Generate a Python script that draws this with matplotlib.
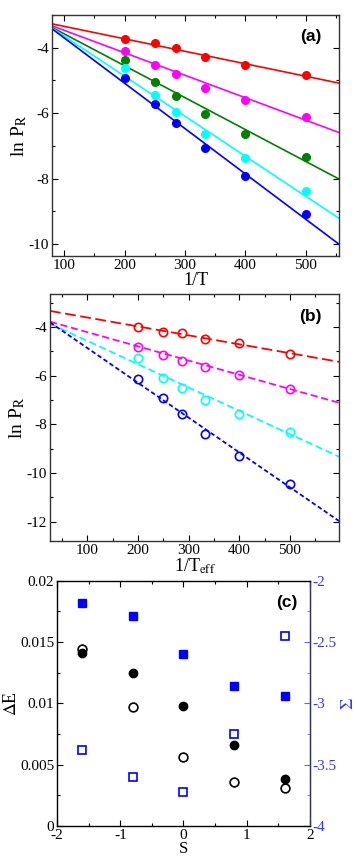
import numpy as np
import matplotlib
matplotlib.use("Agg")
import matplotlib.pyplot as plt
from matplotlib.ticker import MultipleLocator

plt.rcParams['font.family'] = ['Liberation Serif', 'DejaVu Serif']
plt.rcParams['mathtext.fontset'] = 'stix'
plt.rcParams['font.size'] = 11
plt.rcParams['axes.unicode_minus'] = False

# inverse temperatures used in (a) and (b)
inv_t = [200, 250, 286, 333, 400, 500]
colors = ['red', 'magenta', 'green', 'cyan', 'blue']

# panel (a): ln P_R vs 1/T, filled circles + fit lines
lnp_a = {
    'red':     [-3.73, -3.86, -4.02, -4.29, -4.54, -4.84],
    'magenta': [-4.09, -4.54, -4.81, -5.22, -5.59, -6.12],
    'green':   [-4.38, -5.05, -5.48, -6.02, -6.63, -7.33],
    'cyan':    [-4.62, -5.44, -5.96, -6.63, -7.37, -8.39],
    'blue':    [-4.92, -5.73, -6.31, -7.07, -7.92, -9.08],
}
fit_a_intercept = [-2.965, -2.781, -2.600, -2.421, -2.312]
fit_a_slope = [-0.003811, -0.006863, -0.009747, -0.012232, -0.013853]

# panel (b): ln P_R vs 1/T_eff, open circles + dashed fits
colors_b = ['red', 'magenta', 'cyan', 'blue']
lnp_b = {
    'red':     [-4.00, -4.19, -4.26, -4.47, -4.67, -5.11],
    'magenta': [-4.80, -5.14, -5.39, -5.66, -5.99, -6.53],
    'cyan':    [-5.28, -6.10, -6.50, -6.99, -7.56, -8.31],
    'blue':    [-6.14, -6.92, -7.58, -8.39, -9.31, -10.46],
}
fit_b_intercept = [-3.238, -3.624, -3.610, -3.432]
fit_b_slope = [-0.00367, -0.005843, -0.009583, -0.014313]
dash_b = [(6, 2.5), (4, 2), (4, 2), (2.5, 1.5)]

# panel (c)
s_vals = [-1.6, -0.8, 0.0, 0.8, 1.6]
de_filled = [0.01408, 0.01245, 0.00978, 0.0066, 0.00383]
de_open = [0.01446, 0.00967, 0.0056, 0.00359, 0.00307]
sigma_filled = [-2.18, -2.29, -2.60, -2.86, -2.94]
sigma_open = [-3.38, -3.60, -3.72, -3.25, -2.45]

LABEL_FS = 13


def style_axes(ax, xmaj, xmin, ymaj, ymin, right=True):
    ax.xaxis.set_major_locator(MultipleLocator(xmaj))
    ax.xaxis.set_minor_locator(MultipleLocator(xmin))
    ax.yaxis.set_major_locator(MultipleLocator(ymaj))
    ax.yaxis.set_minor_locator(MultipleLocator(ymin))
    ax.tick_params(which='both', direction='in', top=True, right=right,
                   pad=2, labelsize=11)
    ax.tick_params(which='major', length=4, width=0.8)
    ax.tick_params(which='minor', length=2, width=0.8)
    for sp in ax.spines.values():
        sp.set_color('#333333')
        sp.set_linewidth(1.0)


fig = plt.figure(figsize=(3.57, 8.57), dpi=100)

# ---- (a)
ax1 = fig.add_axes([0.1457, 0.7013, 0.8039, 0.2812])
xline = np.array([80, 555])
for c, b, m in zip(colors, fit_a_intercept, fit_a_slope):
    ax1.plot(xline, b + m * xline, color=c, lw=1.2)
    ax1.plot(inv_t, lnp_a[c], 'o', color=c, ms=5.5, mec=c)
ax1.set_xlim(80, 555)
ax1.set_ylim(-10.36, -3.0)
style_axes(ax1, 100, 50, 2, 1)
ax1.set_xlabel('1/T', labelpad=0, fontsize=LABEL_FS)
ax1.set_ylabel(r'ln P$_{\rm R}$', labelpad=0, fontsize=LABEL_FS + 1)
ax1.text(0.94, 0.91, '(a)', transform=ax1.transAxes, ha='right', va='center',
         family='Liberation Sans', weight='bold', fontsize=12.5)

# ---- (b)
ax2 = fig.add_axes([0.140, 0.3687, 0.8096, 0.2879])
xline = np.array([26, 597])
for c, b, m, d in zip(colors_b, fit_b_intercept, fit_b_slope, dash_b):
    ax2.plot(xline, b + m * xline, color=c, lw=1.3, dashes=d)
    ax2.plot(inv_t, lnp_b[c], 'o', mfc='none', mec=c, ms=6, mew=1.2)
ax2.set_xlim(26, 597)
ax2.set_ylim(-12.8, -2.65)
style_axes(ax2, 100, 50, 2, 1)
ax2.set_xlabel(r'1/T$_{\rm eff}$', labelpad=0, fontsize=LABEL_FS)
ax2.set_ylabel(r'ln P$_{\rm R}$', labelpad=0, fontsize=LABEL_FS + 1)
ax2.text(0.94, 0.91, '(b)', transform=ax2.transAxes, ha='right', va='center',
         family='Liberation Sans', weight='bold', fontsize=12.5)

# ---- (c)
ax3 = fig.add_axes([0.1597, 0.0362, 0.7086, 0.2862])
ax3.plot(s_vals, de_filled, 'o', color='black', ms=6, zorder=3)
ax3.plot(s_vals, de_open, 'o', mfc='none', mec='black', ms=6.3, mew=1.2, zorder=3)
ax3.set_xlim(-2, 2)
ax3.set_ylim(0, 0.02)
style_axes(ax3, 1, 0.5, 0.005, 0.0025, right=False)
ax3.set_yticks([0, 0.005, 0.01, 0.015, 0.02])
ax3.set_yticklabels(['0', '0.005', '0.01', '0.015', '0.02'])
ax3.set_xlabel('S', labelpad=-0.5, fontsize=12)
ax3.set_ylabel(r'$\Delta$E', labelpad=0, fontsize=LABEL_FS)
ax3.text(0.95, 0.91, '(c)', transform=ax3.transAxes, ha='right', va='center',
         family='Liberation Sans', weight='bold', fontsize=12.5)

ax4 = ax3.twinx()
ax4.plot(s_vals, sigma_filled, 's', color='blue', ms=5.3, zorder=3)
ax4.plot(s_vals, sigma_open, 's', mfc='none', mec='blue', ms=5.5, mew=1.2, zorder=3)
ax4.set_ylim(-4, -2)
ax4.yaxis.set_major_locator(MultipleLocator(0.5))
ax4.yaxis.set_minor_locator(MultipleLocator(0.25))
ax4.tick_params(which='both', direction='in', colors='#6666ff',
                labelcolor='#3333ff', pad=2, labelsize=11)
ax4.tick_params(which='major', length=4)
ax4.tick_params(which='minor', length=2)
ax4.set_yticks([-4, -3.5, -3, -2.5, -2])
ax4.set_yticklabels(['-4', '-3.5', '-3', '-2.5', '-2'])
ax4.spines['right'].set_color('#333366')
ax4.set_ylabel(r'$\Sigma$', color='#3333ff', labelpad=2, fontsize=LABEL_FS)

fig.savefig('out.png', dpi=100)
